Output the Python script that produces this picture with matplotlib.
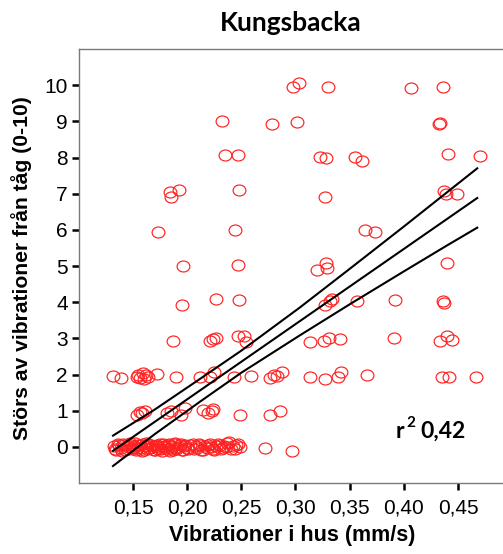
import matplotlib
matplotlib.use("Agg")
import matplotlib.pyplot as plt
from matplotlib.path import Path
from matplotlib.transforms import Affine2D

# Vibration in house (mm/s) and annoyance score (0-10), one pair per respondent
vib_row10 = [0.2975, 0.3036, 0.3300, 0.4067, 0.4365]
stors_row10 = [9.94, 10.07, 9.94, 9.91, 9.94]

vib_row9 = [0.2322, 0.2786, 0.3011, 0.4322, 0.4335]
stors_row9 = [9.00, 8.94, 8.97, 8.92, 8.95]

vib_row8 = [0.2352, 0.2467, 0.3227, 0.3279, 0.3553, 0.3611, 0.4409, 0.4701]
stors_row8 = [8.06, 8.06, 8.01, 7.98, 8.01, 7.90, 8.11, 8.03]

vib_row7 = [0.1842, 0.1925, 0.1854, 0.2476, 0.3276, 0.4375, 0.4388, 0.4489]
stors_row7 = [7.04, 7.10, 6.92, 7.10, 6.90, 7.07, 6.98, 7.00]

vib_row6 = [0.1734, 0.2445, 0.3645, 0.3737]
stors_row6 = [5.94, 5.99, 6.00, 5.93]

vib_row5 = [0.1965, 0.2467, 0.3202, 0.3282, 0.3294, 0.4402]
stors_row5 = [4.99, 5.03, 4.90, 5.09, 4.95, 5.07]

vib_row4 = [0.1955, 0.2266, 0.2476, 0.3273, 0.3319, 0.3335, 0.3565, 0.3919,
            0.4365, 0.4375]
stors_row4 = [3.93, 4.09, 4.05, 3.93, 4.02, 4.09, 4.03, 4.05, 4.03, 3.98]

vib_row3 = [0.1867, 0.2211, 0.2238, 0.2266, 0.2472, 0.2528, 0.2543, 0.3134,
            0.3264, 0.3313, 0.3411, 0.3910, 0.4335, 0.4402, 0.4443]
stors_row3 = [2.94, 2.93, 2.98, 3.01, 3.07, 3.06, 2.89, 2.89,
              2.94, 3.01, 2.98, 3.01, 2.94, 3.06, 2.96]

vib_row2 = [0.1313, 0.1386, 0.1537, 0.1589, 0.1641, 0.1565, 0.1617, 0.1724,
            0.1550, 0.1600, 0.1893, 0.2119, 0.2211, 0.2248, 0.2433, 0.2590,
            0.2765, 0.2805, 0.2827, 0.2879, 0.3134, 0.3273, 0.3396, 0.3421,
            0.3658, 0.4350, 0.4421, 0.4667]
stors_row2 = [1.95, 1.90, 1.92, 2.05, 1.94, 1.90, 1.99, 2.02,
              1.98, 1.88, 1.93, 1.93, 1.93, 2.06, 1.93, 1.97,
              1.90, 1.99, 1.97, 2.06, 1.92, 1.88, 1.92, 2.06,
              1.99, 1.92, 1.92, 1.92]

vib_row1 = [0.1534, 0.1580, 0.1611, 0.1565, 0.1818, 0.1846, 0.1941, 0.1982,
            0.2149, 0.2195, 0.2227, 0.2242, 0.2485, 0.2765, 0.2857]
stors_row1 = [0.89, 0.93, 0.98, 0.95, 0.93, 0.98, 0.89, 1.07,
              1.02, 0.93, 0.98, 1.04, 0.89, 0.89, 1.00]

vib_row0 = [0.132, 0.134, 0.137, 0.139, 0.141, 0.143, 0.146, 0.148, 0.150,
            0.152, 0.154, 0.156, 0.158, 0.159, 0.161, 0.163, 0.164, 0.166,
            0.168, 0.170, 0.172, 0.174, 0.176, 0.178, 0.180, 0.182, 0.184,
            0.186, 0.188, 0.190, 0.192, 0.194, 0.196, 0.198, 0.200, 0.203,
            0.206, 0.208, 0.211, 0.213, 0.216, 0.218, 0.221, 0.224, 0.227,
            0.230, 0.233, 0.236, 0.239, 0.242, 0.244, 0.247, 0.249, 0.272,
            0.297,
            0.133, 0.136, 0.140, 0.142, 0.145, 0.147, 0.149, 0.151, 0.153,
            0.155, 0.157, 0.160, 0.162, 0.165, 0.167, 0.169, 0.171, 0.173,
            0.175, 0.177, 0.179, 0.181, 0.183, 0.185, 0.187, 0.189, 0.191,
            0.193, 0.195, 0.197, 0.201, 0.205, 0.209, 0.212, 0.215, 0.219,
            0.222, 0.225, 0.228, 0.231, 0.234, 0.237, 0.240, 0.245]
stors_row0 = [0.02, -0.08, 0.05, -0.03, 0.08, -0.10, 0.00, 0.06, -0.05,
              0.10, -0.02, 0.04, -0.12, 0.07, 0.01, -0.06, 0.09, -0.04,
              0.03, -0.09, 0.06, 0.00, -0.07, 0.08, -0.01, 0.05, -0.11,
              0.02, 0.07, -0.05, 0.00, 0.09, -0.08, 0.04, -0.02, 0.06,
              -0.06, 0.01, 0.08, -0.09, 0.03, -0.03, 0.07, -0.07, 0.02,
              0.05, -0.04, 0.00, 0.12, 0.01, -0.06, 0.08, 0.00, -0.02,
              -0.11,
              -0.05, 0.09, -0.11, 0.04, -0.07, 0.10, -0.02, 0.03, -0.09,
              0.06, -0.04, -0.08, 0.11, -0.03, 0.05, -0.10, 0.02, -0.06,
              0.08, -0.12, 0.03, -0.05, 0.07, -0.02, -0.08, 0.10, -0.04,
              0.05, -0.10, 0.01, -0.07, 0.09, -0.03, 0.04, -0.08, 0.06,
              -0.01, -0.09, 0.07, -0.05, 0.02, 0.10, -0.06, 0.04]

# Fitted regression line and 95% confidence band for the mean
fit_x = [0.1315, 0.4678]
fit_y = [-0.11, 6.88]
band_x = [0.1315, 0.17, 0.2119, 0.25, 0.3039, 0.35, 0.40, 0.44, 0.4678]
band_upper = [0.31, 1.03, 1.88, 2.66, 3.85, 4.92, 6.09, 7.04, 7.70]
band_lower = [-0.53, 0.35, 1.25, 2.05, 3.08, 3.94, 4.85, 5.57, 6.06]

x_ticks = [0.15, 0.20, 0.25, 0.30, 0.35, 0.40, 0.45]
x_tick_labels = ["0,15", "0,20", "0,25", "0,30", "0,35", "0,40", "0,45"]
y_ticks = list(range(0, 11))

title = "Kungsbacka"
x_label = "Vibrationer i hus (mm/s)"
y_label = "Störs av vibrationer från tåg (0-10)"
r2_text = "0,42"

vib = (vib_row10 + vib_row9 + vib_row8 + vib_row7 + vib_row6 + vib_row5
       + vib_row4 + vib_row3 + vib_row2 + vib_row1 + vib_row0)
stors = (stors_row10 + stors_row9 + stors_row8 + stors_row7 + stors_row6
         + stors_row5 + stors_row4 + stors_row3 + stors_row2 + stors_row1
         + stors_row0)

W, H = 503, 554
fig = plt.figure(figsize=(W / 100, H / 100), dpi=100)
ax = fig.add_axes([79 / W, 1 - 483 / H, 1 - 79 / W, (483 - 49) / H])

# slightly flattened open circle marker
circ = Path.unit_circle()
ellipse = Path(Affine2D().scale(1.0, 0.86).transform(circ.vertices), circ.codes)

ax.plot(vib, stors, linestyle="none", marker=ellipse, markersize=9.2,
        markerfacecolor="none", markeredgecolor="#ff2020",
        markeredgewidth=0.85, zorder=3)

ax.plot(fit_x, fit_y, color="black", lw=1.5, zorder=4)
ax.plot(band_x, band_upper, color="black", lw=1.5, zorder=4)
ax.plot(band_x, band_lower, color="black", lw=1.5, zorder=4)

ax.set_xlim(0.1001, 0.4916)
ax.set_ylim(-1, 11)

ax.set_xticks(x_ticks)
ax.set_xticklabels(x_tick_labels)
ax.set_yticks(y_ticks)
ax.set_yticklabels([str(v) for v in y_ticks])

tick_font = "Liberation Sans"
for lab in ax.get_xticklabels() + ax.get_yticklabels():
    lab.set_fontfamily(tick_font)
    lab.set_fontsize(15)
ax.tick_params(axis="both", direction="out", length=5, width=1.8,
               color="black")
ax.tick_params(axis="x", pad=6)
ax.tick_params(axis="y", pad=3)

for side in ("left", "bottom", "top"):
    ax.spines[side].set_color("#7a7a7a")
    ax.spines[side].set_linewidth(1.0)
ax.spines["right"].set_visible(False)

fig.text(292 / W, 1 - 536 / H, x_label, ha="center", va="center",
         fontfamily=tick_font, fontweight="bold", fontsize=15.5)
fig.text(22 / W, 1 - 268 / H, y_label, ha="center", va="center",
         rotation=90, fontfamily=tick_font, fontweight="bold", fontsize=15.2)
fig.text(291 / W, 1 - 31 / H, title, ha="center", va="baseline",
         fontfamily="Lato", fontweight="bold", fontsize=19)

# coefficient of determination
fig.text(396 / W, 1 - 438 / H, "r", ha="left", va="baseline",
         fontfamily="Lato", fontweight="bold", fontsize=16.5)
fig.text(406 / W, 1 - 427 / H, "2", ha="left", va="baseline",
         fontfamily="Lato", fontweight="bold", fontsize=11)
fig.text(420 / W, 1 - 438 / H, r2_text, ha="left", va="baseline",
         fontfamily="Lato", fontweight="bold", fontsize=16.5)

fig.savefig("out.png", dpi=100)
